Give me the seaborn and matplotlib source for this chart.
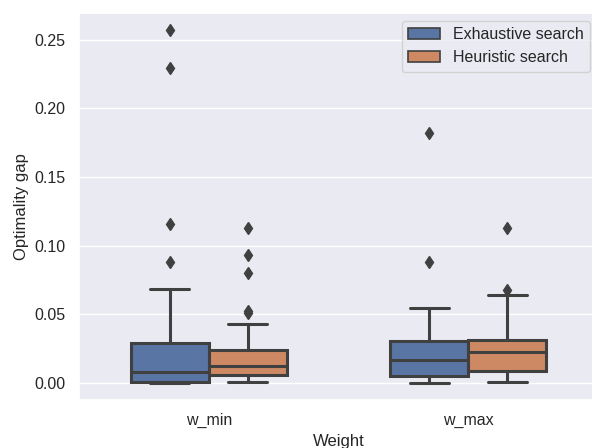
import numpy as np
import pandas as pd
import matplotlib
matplotlib.use("Agg")
import matplotlib.pyplot as plt
import seaborn as sns

weights = ["w_min", "w_max"]
methods = ["Exhaustive search", "Heuristic search"]

# Optimality gap per instance, for each weight setting and search method
exhaustive_w_min = [0.0, 0.0, 0.0, 0.0, 0.0, 0.0, 0.0005, 0.001, 0.002, 0.003,
                    0.005, 0.006, 0.0076, 0.009, 0.012, 0.016, 0.020, 0.025,
                    0.0287, 0.041, 0.068, 0.088, 0.116, 0.229, 0.257]
heuristic_w_min = [0.0006, 0.001, 0.002, 0.003, 0.004, 0.005, 0.006, 0.007,
                   0.008, 0.009, 0.010, 0.011, 0.0124, 0.014, 0.016, 0.018,
                   0.020, 0.022, 0.0238, 0.0432, 0.0512, 0.0525, 0.0803,
                   0.0931, 0.1125]
exhaustive_w_max = [0.0, 0.0, 0.001, 0.002, 0.003, 0.004, 0.0047, 0.006, 0.008,
                    0.010, 0.012, 0.015, 0.0168, 0.019, 0.021, 0.023, 0.026,
                    0.028, 0.0306, 0.034, 0.039, 0.045, 0.0544, 0.088, 0.182]
heuristic_w_max = [0.0006, 0.002, 0.004, 0.005, 0.006, 0.007, 0.0088, 0.011,
                   0.013, 0.015, 0.017, 0.020, 0.0222, 0.024, 0.025, 0.027,
                   0.029, 0.030, 0.0311, 0.035, 0.042, 0.051, 0.0638, 0.0677,
                   0.1125]

series = {
    ("w_min", "Exhaustive search"): exhaustive_w_min,
    ("w_min", "Heuristic search"): heuristic_w_min,
    ("w_max", "Exhaustive search"): exhaustive_w_max,
    ("w_max", "Heuristic search"): heuristic_w_max,
}
rows = []
for (w, m), vals in series.items():
    for v in vals:
        rows.append({"Weight": w, "Method": m, "gap": v})
df = pd.DataFrame(rows)

sns.set_theme(style="darkgrid", palette="deep")
plt.rcParams["font.family"] = ["Liberation Sans", "DejaVu Sans"]

fig = plt.figure(figsize=(5.92, 4.48), dpi=100)
ax = fig.add_axes([79 / 592, 1 - 400 / 448, 519 / 592, 387 / 448])

dark = "#404040"
sns.boxplot(
    data=df, x="Weight", y="gap", hue="Method",
    order=weights, hue_order=methods, width=0.6, saturation=0.75,
    linewidth=2.2, linecolor=dark, ax=ax,
    flierprops=dict(marker="d", markerfacecolor=dark, markeredgecolor=dark,
                    markersize=6),
)

ax.set_ylim(-0.0125, 0.2693)
ax.set_xlim(-0.5, 1.5)
ax.set_yticks([0.0, 0.05, 0.10, 0.15, 0.20, 0.25])
ax.set_yticklabels(["0.00", "0.05", "0.10", "0.15", "0.20", "0.25"])
ax.tick_params(labelsize=11.5)
ax.set_xlabel("Weight", fontsize=12)
ax.set_ylabel("Optimality gap", fontsize=12)

handles, labels = ax.get_legend_handles_labels()
leg = ax.legend(handles, labels, loc="upper right", fontsize=11.5, title=None)
for h in leg.legend_handles:
    h.set_linewidth(1.2)

fig.savefig("out.png", dpi=100)
